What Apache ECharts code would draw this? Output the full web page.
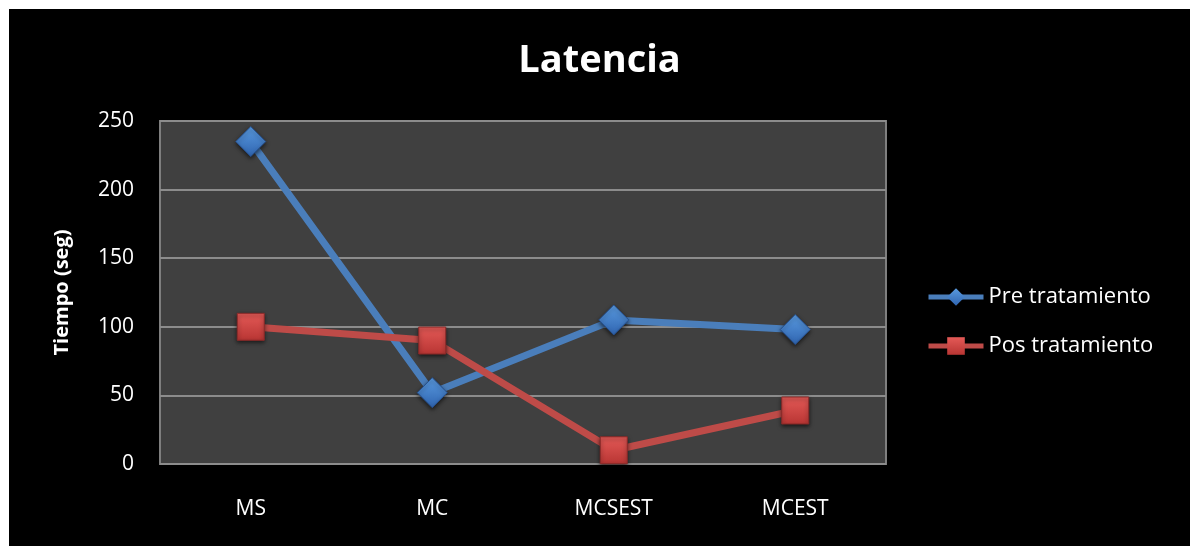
<!DOCTYPE html>
<html>
<head>
<meta charset="utf-8">
<script src="https://cdn.jsdelivr.net/npm/echarts@6/dist/echarts.min.js"></script>
<style>
html, body { margin: 0; padding: 0; background: #ffffff; }
#latencia { position: absolute; left: 9px; top: 9px; width: 1181px; height: 537px; background: #000000; }
</style>
</head>
<body>
<div id="latencia"></div>
<script>
// datos de la grafica
var categorias = ['MS', 'MC', 'MCSEST', 'MCEST'];
var preTratamiento = [235, 52, 105, 98];
var posTratamiento = [100, 90, 10, 39];
var ticksY = { min: 0, max: 250, step: 50 };

var myChart = echarts.init(document.getElementById('latencia'));
var fuente = '"Open Sans", "DejaVu Sans", sans-serif';

var option = {
    backgroundColor: '#000000',
    animation: false,
    title: {
        text: 'Latencia',
        left: 'center',
        top: 28,
        textStyle: {
            color: '#ffffff',
            fontFamily: fuente,
            fontWeight: 'bold',
            fontSize: 38
        }
    },
    legend: {
        orient: 'vertical',
        left: 917,
        top: 277,
        padding: 0,
        itemWidth: 55,
        itemHeight: 22,
        itemGap: 27,
        itemTextGap: 3,
        itemStyle: { borderWidth: 0 },
        lineStyle: { width: 5 },
        textStyle: {
            color: '#ffffff',
            fontFamily: fuente,
            fontSize: 22
        },
        data: ['Pre tratamiento', 'Pos tratamiento']
    },
    grid: {
        show: true,
        left: 151,
        top: 112,
        width: 726,
        height: 343,
        backgroundColor: '#404040',
        borderColor: '#7f7f7f',
        borderWidth: 2
    },
    xAxis: {
        type: 'category',
        data: categorias,
        boundaryGap: true,
        axisLine: { show: false },
        axisTick: { show: false },
        axisLabel: {
            color: '#ffffff',
            fontFamily: fuente,
            fontSize: 21,
            margin: 35
        }
    },
    yAxis: {
        type: 'value',
        min: ticksY.min,
        max: ticksY.max,
        interval: ticksY.step,
        name: 'Tiempo (seg)',
        nameLocation: 'middle',
        nameGap: 88,
        nameTextStyle: {
            color: '#ffffff',
            fontFamily: fuente,
            fontWeight: 'bold',
            fontSize: 20
        },
        axisLine: { show: false },
        axisTick: { show: false },
        axisLabel: {
            color: '#ffffff',
            fontFamily: fuente,
            fontSize: 21,
            margin: 26
        },
        splitLine: {
            lineStyle: { color: '#8c8c8c', width: 2 }
        }
    },
    series: [
        {
            name: 'Pre tratamiento',
            type: 'line',
            data: preTratamiento,
            symbol: 'diamond',
            symbolSize: [30, 30],
            lineStyle: { color: '#4a7ebb', width: 7 },
            itemStyle: {
                color: {
                    type: 'linear', x: 0, y: 0, x2: 0, y2: 1,
                    colorStops: [
                        { offset: 0, color: '#5a9be0' },
                        { offset: 1, color: '#2f64b0' }
                    ]
                },
                borderColor: '#26508e',
                borderWidth: 1,
                shadowColor: 'rgba(0,0,0,0.6)',
                shadowBlur: 4,
                shadowOffsetY: 2
            },
            z: 2
        },
        {
            name: 'Pos tratamiento',
            type: 'line',
            data: posTratamiento,
            symbol: 'rect',
            symbolSize: [27, 27],
            lineStyle: { color: '#be4b48', width: 7 },
            itemStyle: {
                color: {
                    type: 'linear', x: 0, y: 0, x2: 0, y2: 1,
                    colorStops: [
                        { offset: 0, color: '#e45a57' },
                        { offset: 1, color: '#b83533' }
                    ]
                },
                borderColor: '#8a2a28',
                borderWidth: 1,
                shadowColor: 'rgba(0,0,0,0.6)',
                shadowBlur: 4,
                shadowOffsetY: 2
            },
            z: 3
        }
    ]
};

if (option && typeof option === "object") {
    myChart.setOption(option, true);
}
</script>
</body>
</html>
